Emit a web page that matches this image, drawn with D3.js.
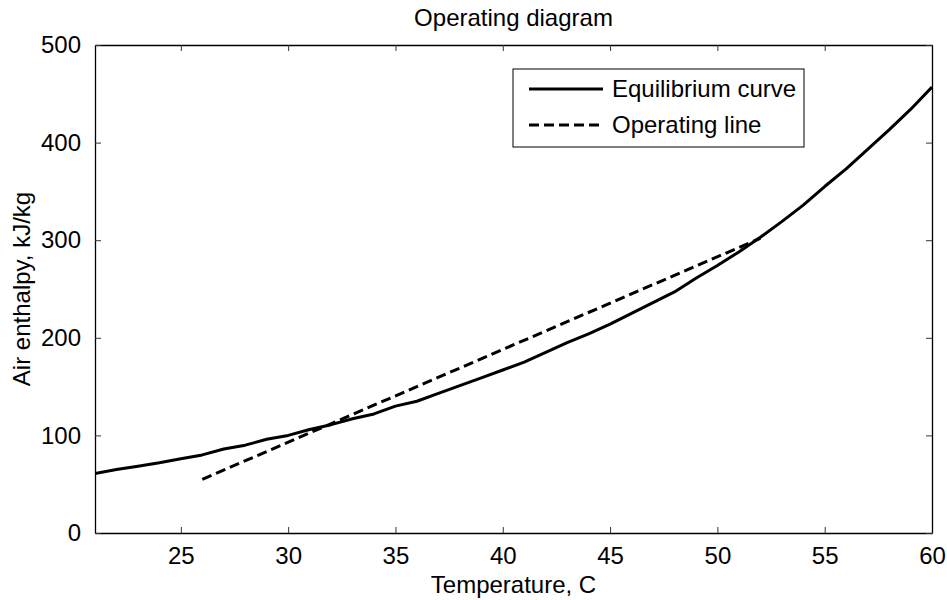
<!DOCTYPE html>
<html>
<head>
<meta charset="utf-8">
<script src="https://cdn.jsdelivr.net/npm/d3@7"></script>
<style>
  body { margin: 0; background: #fff; }
  svg text { font-family: "Liberation Sans", Arial, sans-serif; fill: #000; }
</style>
</head>
<body>
<div id="chart"></div>
<script>
// equilibrium curve: temperature (C) -> saturated air enthalpy (kJ/kg)
var eqTemp = [21,22,23,24,25,26,27,28,29,30,31,32,33,34,35,36,37,38,39,40,
              41,42,43,44,45,46,47,48,49,50,51,52,53,54,55,56,57,58,59,60];
var eqEnth = [61,65,68.5,72,76,80,86,90,96,100,106,111,117,122,130,135,143,151,159,167,
              175,185,195,204,214,225,236,247,261,274,288,303,319,336,355,373,393,413,434,457];
// operating line end points
var opTemp = [26, 52];
var opEnth = [55, 302];

var xTicks = [25,30,35,40,45,50,55,60];
var yTicks = [0,100,200,300,400,500];
var legendNames = ["Equilibrium curve", "Operating line"];

var W = 947, H = 600;
var margin = {left: 95, right: 15, top: 45, bottom: 67};

var svg = d3.select('#chart').append('svg')
    .attr('width', W)
    .attr('height', H);

var x = d3.scaleLinear().domain([21, 60]).range([margin.left, W - margin.right]);
var y = d3.scaleLinear().domain([0, 500]).range([H - margin.bottom, margin.top]);

var fs = 24;

// axes, MATLAB style: box with inward ticks on all sides
var gx = svg.append('g')
    .attr('transform', 'translate(0,' + (H - margin.bottom) + ')')
    .call(d3.axisBottom(x).tickValues(xTicks).tickSize(-6).tickSizeOuter(0).tickPadding(14));
var gxt = svg.append('g')
    .attr('transform', 'translate(0,' + margin.top + ')')
    .call(d3.axisTop(x).tickValues(xTicks).tickSize(-6).tickSizeOuter(0).tickFormat(''));
var gy = svg.append('g')
    .attr('transform', 'translate(' + margin.left + ',0)')
    .call(d3.axisLeft(y).tickValues(yTicks).tickSize(-6).tickSizeOuter(0).tickPadding(14));
var gyr = svg.append('g')
    .attr('transform', 'translate(' + (W - margin.right) + ',0)')
    .call(d3.axisRight(y).tickValues(yTicks).tickSize(-6).tickSizeOuter(0).tickFormat(''));

[gx, gxt, gy, gyr].forEach(function (g) {
    g.select('.domain').attr('stroke', '#000').attr('stroke-width', 1.3);
    g.selectAll('.tick line').attr('stroke', '#333').attr('stroke-width', 1);
    g.selectAll('.tick text')
        .style('font-family', '"Liberation Sans", Arial, sans-serif')
        .style('font-size', fs + 'px')
        .attr('fill', '#000');
});

// data lines
var line = d3.line()
    .x(function (d) { return x(d[0]); })
    .y(function (d) { return y(d[1]); });

svg.append('defs').append('clipPath').attr('id', 'clip')
    .append('rect')
    .attr('x', margin.left).attr('y', margin.top)
    .attr('width', W - margin.left - margin.right)
    .attr('height', H - margin.top - margin.bottom);

var eqData = eqTemp.map(function (t, i) { return [t, eqEnth[i]]; });
var opData = opTemp.map(function (t, i) { return [t, opEnth[i]]; });

svg.append('path')
    .attr('d', line(eqData))
    .attr('clip-path', 'url(#clip)')
    .attr('fill', 'none')
    .attr('stroke', '#000')
    .attr('stroke-width', 3)
    .attr('stroke-linejoin', 'round');

svg.append('path')
    .attr('d', line(opData))
    .attr('fill', 'none')
    .attr('stroke', '#000')
    .attr('stroke-width', 3)
    .attr('stroke-dasharray', '10,5');

// title and labels
svg.append('text')
    .attr('x', (margin.left + W - margin.right) / 2)
    .attr('y', 26)
    .attr('text-anchor', 'middle')
    .style('font-size', fs + 'px')
    .text('Operating diagram');
svg.append('text')
    .attr('x', (margin.left + W - margin.right) / 2)
    .attr('y', 593)
    .attr('text-anchor', 'middle')
    .style('font-size', fs + 'px')
    .text('Temperature, C');
svg.append('text')
    .attr('transform', 'translate(30,' + ((margin.top + H - margin.bottom) / 2) + ') rotate(-90)')
    .attr('text-anchor', 'middle')
    .style('font-size', fs + 'px')
    .text('Air enthalpy, kJ/kg');

// legend
var lg = svg.append('g');
lg.append('rect')
    .attr('x', 513).attr('y', 69)
    .attr('width', 291).attr('height', 78)
    .attr('fill', '#fff')
    .attr('stroke', '#000')
    .attr('stroke-width', 1);
legendNames.forEach(function (name, i) {
    var ly = 89 + i * 36;
    lg.append('line')
        .attr('x1', 529).attr('x2', 603)
        .attr('y1', ly).attr('y2', ly)
        .attr('stroke', '#000')
        .attr('stroke-width', 3)
        .attr('stroke-dasharray', i == 1 ? '10,5' : null);
    lg.append('text')
        .attr('x', 612)
        .attr('y', ly + 8)
        .style('font-size', fs + 'px')
        .text(name);
});
</script>
</body>
</html>
